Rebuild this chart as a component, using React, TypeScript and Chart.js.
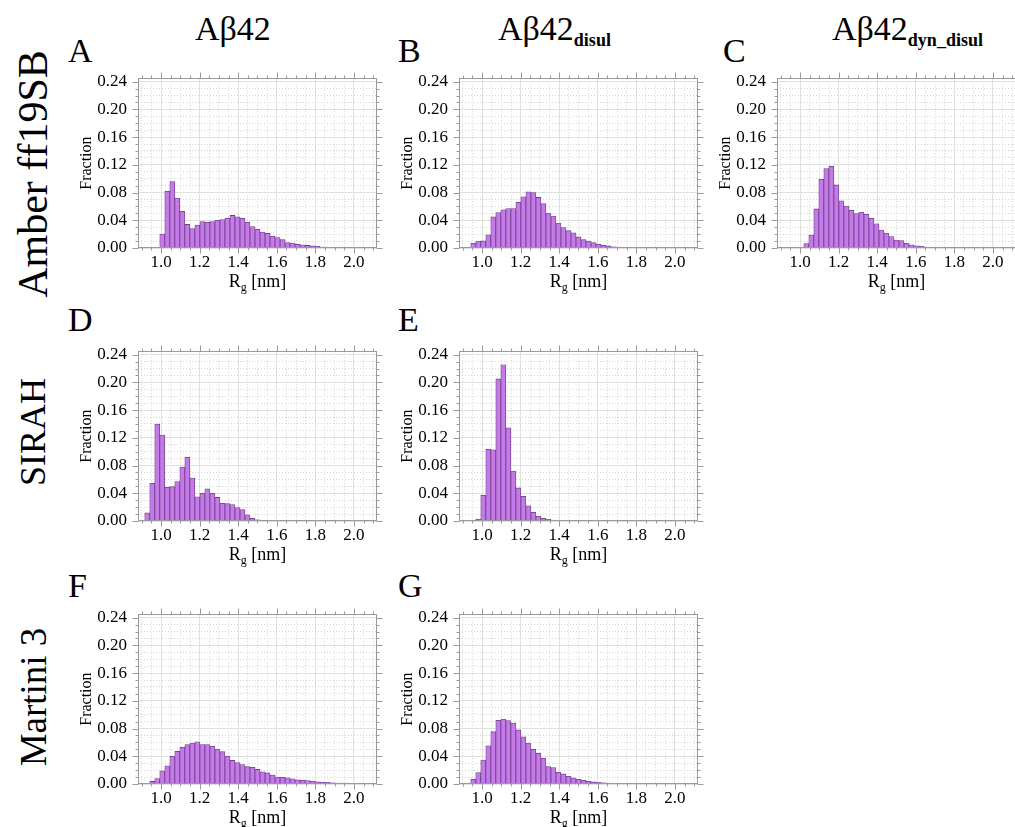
import React, { useEffect, useRef } from 'react';
import { Chart, registerables } from 'chart.js';

Chart.register(...registerables);

const FONT_CSS = '"Liberation Serif", "Times New Roman", Times, serif';
const FONT_CANVAS = '"Liberation Serif", "Times New Roman", serif';
Chart.defaults.font.family = FONT_CANVAS;

// Histogram bin centres (nm)
const binCenters = [
  0.928, 0.954, 0.98, 1.006, 1.032, 1.058, 1.084, 1.11, 1.136, 1.162, 1.188, 1.214,
  1.24, 1.266, 1.292, 1.318, 1.344, 1.37, 1.396, 1.422, 1.448, 1.474, 1.5, 1.526,
  1.552, 1.578, 1.604, 1.63, 1.656, 1.682, 1.708, 1.734, 1.76, 1.786, 1.812, 1.838,
  1.864, 1.89, 1.916, 1.942, 1.968, 1.994, 2.02, 2.046, 2.072, 2.098, 2.124,
];

// A: Amber ff19SB, Aβ42
const fracA = [
  0, 0, 0.0005, 0.020, 0.082, 0.096, 0.072, 0.053, 0.034, 0.028, 0.033, 0.038,
  0.037, 0.038, 0.040, 0.041, 0.043, 0.047, 0.045, 0.043, 0.037, 0.031, 0.027, 0.023,
  0.021, 0.017, 0.015, 0.012, 0.008, 0.007, 0.0055, 0.0046, 0.0037, 0.0032, 0.0023, 0.0014,
  0.001, 0, 0, 0, 0, 0, 0, 0, 0, 0, 0,
];
// B: Amber ff19SB, Aβ42 disul
const fracB = [
  0, 0.0068, 0.010, 0.0102, 0.019, 0.045, 0.051, 0.055, 0.057, 0.057, 0.066, 0.074,
  0.081, 0.080, 0.073, 0.064, 0.0505, 0.046, 0.036, 0.0295, 0.025, 0.022, 0.016, 0.012,
  0.010, 0.0077, 0.0055, 0.004, 0.003, 0.0018, 0.0014, 0.0009, 0.0005, 0.0004, 0, 0,
  0, 0, 0, 0, 0, 0, 0, 0, 0, 0, 0,
];
// C: Amber ff19SB, Aβ42 dyn_disul
const fracC = [
  0, 0, 0, 0.0005, 0.0064, 0.0188, 0.0564, 0.099, 0.1147, 0.118, 0.091, 0.068,
  0.0606, 0.0546, 0.0496, 0.0518, 0.0486, 0.043, 0.035, 0.026, 0.0216, 0.0165, 0.0115, 0.0106,
  0.0069, 0.0046, 0.0032, 0.0023, 0.0014, 0.0009, 0.0005, 0.0004, 0, 0, 0, 0,
  0, 0, 0, 0, 0, 0, 0, 0, 0, 0, 0,
];
// D: SIRAH, Aβ42
const fracD = [
  0.0118, 0.0545, 0.14, 0.124, 0.0486, 0.0495, 0.057, 0.0777, 0.092, 0.062, 0.035, 0.040,
  0.0464, 0.040, 0.034, 0.0255, 0.025, 0.0236, 0.0195, 0.0164, 0.009, 0.004, 0.0018, 0.0009,
  0, 0, 0, 0, 0, 0, 0, 0, 0, 0, 0, 0,
  0, 0, 0, 0, 0, 0, 0, 0, 0, 0, 0,
];
// E: SIRAH, Aβ42 disul
const fracE = [
  0, 0, 0.0027, 0.037, 0.1036, 0.1027, 0.205, 0.2255, 0.1345, 0.072, 0.0477, 0.0355,
  0.0218, 0.0127, 0.0068, 0.004, 0.0023, 0.0014, 0.0009, 0, 0, 0, 0, 0,
  0, 0, 0, 0, 0, 0, 0, 0, 0, 0, 0, 0,
  0, 0, 0, 0, 0, 0, 0, 0, 0, 0, 0,
];
// F: Martini 3, Aβ42
const fracF = [
  0.0009, 0.0037, 0.0078, 0.019, 0.0263, 0.040, 0.047, 0.053, 0.057, 0.059, 0.061, 0.057,
  0.057, 0.0545, 0.050, 0.0466, 0.040, 0.034, 0.031, 0.028, 0.025, 0.024, 0.021, 0.0175,
  0.016, 0.013, 0.010, 0.0097, 0.0088, 0.0074, 0.006, 0.0055, 0.005, 0.0042, 0.0032, 0.0028,
  0.0023, 0.0018, 0.0014, 0.0014, 0.0014, 0.0009, 0.0009, 0.0005, 0.0005, 0.0005, 0,
];
// G: Martini 3, Aβ42 disul
const fracG = [
  0.0014, 0.0068, 0.0164, 0.0345, 0.055, 0.0755, 0.092, 0.0936, 0.0914, 0.088, 0.078, 0.068,
  0.059, 0.050, 0.0445, 0.037, 0.025, 0.0236, 0.0168, 0.0145, 0.011, 0.009, 0.0068, 0.0055,
  0.004, 0.003, 0.0023, 0.0018, 0.0014, 0.0009, 0, 0, 0, 0, 0, 0,
  0, 0, 0, 0, 0, 0, 0, 0, 0, 0, 0,
];

const xTickValues = [
  0.9, 0.95, 1.0, 1.05, 1.1, 1.15, 1.2, 1.25, 1.3, 1.35, 1.4, 1.45, 1.5,
  1.55, 1.6, 1.65, 1.7, 1.75, 1.8, 1.85, 1.9, 1.95, 2.0, 2.05, 2.1,
];
const xTickLabels = ['1.0', '1.2', '1.4', '1.6', '1.8', '2.0'];
const yTickValues = [
  0, 0.01, 0.02, 0.03, 0.04, 0.05, 0.06, 0.07, 0.08, 0.09, 0.1, 0.11, 0.12,
  0.13, 0.14, 0.15, 0.16, 0.17, 0.18, 0.19, 0.2, 0.21, 0.22, 0.23, 0.24,
];
const yTickLabels = ['0.00', '0.04', '0.08', '0.12', '0.16', '0.20', '0.24'];

const columnTitles = ['Aβ42', 'Aβ42', 'Aβ42'];
const columnSubs = ['', 'disul', 'dyn_disul'];
const rowTitles = ['Amber ff19SB', 'SIRAH', 'Martini 3'];

const X_MIN = 0.88;
const X_MAX = 2.12;
const Y_MIN = 0;
const Y_MAX = 0.245;

const PLOT_W = 239;
const PLOT_H = 179;
const PAD_L = 70;
const PAD_T = 12;
const PAD_R = 14;
const PAD_B = 30;
const CW = PAD_L + PLOT_W + PAD_R;
const CH = PAD_T + PLOT_H + PAD_B;

const COL_LEFT = [138, 459, 777];
const ROW_TOP = [69, 342, 605];

const BAR_FILL = '#c47ae8';
const BAR_EDGE = '#6e3f86';
const GRID_MAJOR = '#e0e0e0';
const GRID_MINOR = '#d4d4d4';
const FRAME = '#9a9a9a';

const xLabelFor = (v: number) => {
  const s = v.toFixed(1);
  return Math.abs(v * 5 - Math.round(v * 5)) < 1e-6 && xTickLabels.includes(s) ? s : '';
};
const yLabelFor = (v: number) => {
  const s = v.toFixed(2);
  return Math.abs(v * 25 - Math.round(v * 25)) < 1e-6 && yTickLabels.includes(s) ? s : '';
};

const framePlugin = {
  id: 'frameTicks',
  afterDraw(chart: any) {
    const { ctx, chartArea } = chart;
    const { left, right, top, bottom } = chartArea;
    const xs = chart.scales.x;
    const ys = chart.scales.y;
    ctx.save();
    ctx.strokeStyle = FRAME;
    ctx.lineWidth = 1;
    const L = Math.round(left) + 0.5;
    const R = Math.round(right) - 0.5;
    const T = Math.round(top) + 0.5;
    const B = Math.round(bottom) - 0.5;
    ctx.strokeRect(L, T, R - L, B - T);
    ctx.beginPath();
    xTickValues.forEach((v) => {
      const px = Math.round(xs.getPixelForValue(v)) + 0.5;
      const len = xLabelFor(v) ? 6 : 3;
      ctx.moveTo(px, B);
      ctx.lineTo(px, B + len);
      ctx.moveTo(px, T);
      ctx.lineTo(px, T - len);
    });
    yTickValues.forEach((v) => {
      const py = Math.round(ys.getPixelForValue(v)) + 0.5;
      const len = yLabelFor(v) ? 6 : 3;
      ctx.moveTo(L, py);
      ctx.lineTo(L - len, py);
      ctx.moveTo(R, py);
      ctx.lineTo(R + len, py);
    });
    ctx.stroke();
    ctx.restore();
  },
};

function Panel({ values, left, top }: { values: number[]; left: number; top: number }) {
  const ref = useRef<HTMLCanvasElement>(null);
  useEffect(() => {
    if (!ref.current) return;
    const points = binCenters
      .map((x, i) => ({ x, y: values[i] }))
      .filter((p) => p.y > 0);
    const chart = new Chart(ref.current, {
      type: 'bar',
      data: {
        datasets: [
          {
            data: points as any,
            backgroundColor: BAR_FILL,
            borderColor: BAR_EDGE,
            borderWidth: 0.8,
            barPercentage: 1,
            categoryPercentage: 1,
          },
        ],
      },
      options: {
        responsive: false,
        animation: false,
        devicePixelRatio: 1,
        layout: { padding: { left: 0, top: PAD_T, right: PAD_R, bottom: 0 } },
        plugins: { legend: { display: false }, tooltip: { enabled: false } },
        scales: {
          x: {
            type: 'linear',
            min: X_MIN,
            max: X_MAX,
            offset: false,
            afterBuildTicks: (s: any) => {
              s.ticks = xTickValues.map((v) => ({ value: v }));
            },
            afterFit: (s: any) => {
              s.height = PAD_B;
            },
            ticks: {
              autoSkip: false,
              maxRotation: 0,
              minRotation: 0,
              padding: 4,
              color: '#000',
              font: { family: FONT_CANVAS, size: 17 },
              callback: (v: any) => xLabelFor(Number(v)),
            },
            grid: {
              offset: false,
              drawTicks: false,
              lineWidth: 1,
              color: (c: any) => (c.tick && xLabelFor(c.tick.value) ? GRID_MAJOR : GRID_MINOR),
            },
            border: {
              display: false,
              dash: (c: any) => (c.tick && xLabelFor(c.tick.value) ? [] : [1, 2]),
            },
          } as any,
          y: {
            type: 'linear',
            min: Y_MIN,
            max: Y_MAX,
            afterBuildTicks: (s: any) => {
              s.ticks = yTickValues.map((v) => ({ value: v }));
            },
            afterFit: (s: any) => {
              s.width = PAD_L;
            },
            ticks: {
              autoSkip: false,
              padding: 11,
              color: '#000',
              font: { family: FONT_CANVAS, size: 17 },
              callback: (v: any) => yLabelFor(Number(v)),
            },
            grid: {
              drawTicks: false,
              lineWidth: 1,
              color: (c: any) => (c.tick && yLabelFor(c.tick.value) ? GRID_MAJOR : GRID_MINOR),
            },
            border: {
              display: false,
              dash: (c: any) => (c.tick && yLabelFor(c.tick.value) ? [] : [1, 2]),
            },
            title: {
              display: true,
              text: 'Fraction',
              color: '#000',
              font: { family: FONT_CANVAS, size: 16 },
              padding: { top: 9, bottom: 0 },
            },
          } as any,
        },
      },
      plugins: [framePlugin],
    });
    let alive = true;
    const fontsApi: any = (document as any).fonts;
    if (fontsApi && fontsApi.load) {
      Promise.all([
        fontsApi.load('17px "Liberation Serif"'),
        fontsApi.load('16px "Liberation Serif"'),
        fontsApi.ready,
      ])
        .catch(() => null)
        .then(() => {
          if (alive) chart.update();
        });
    }
    return () => {
      alive = false;
      chart.destroy();
    };
  }, [values]);

  return (
    <div
      style={{
        position: 'absolute',
        left: left - PAD_L,
        top: top - PAD_T,
        width: CW,
        height: CH,
      }}
    >
      <canvas ref={ref} width={CW} height={CH} style={{ display: 'block', width: CW, height: CH }} />
    </div>
  );
}

const panels = [
  { key: 'A', values: fracA, col: 0, row: 0 },
  { key: 'B', values: fracB, col: 1, row: 0 },
  { key: 'C', values: fracC, col: 2, row: 0 },
  { key: 'D', values: fracD, col: 0, row: 1 },
  { key: 'E', values: fracE, col: 1, row: 1 },
  { key: 'F', values: fracF, col: 0, row: 2 },
  { key: 'G', values: fracG, col: 1, row: 2 },
];

const LETTER_X = [68, 398, 723];
const LETTER_BASE = [62, 331, 597];
const ROW_CENTER_Y = [174, 432, 697];
const ROW_FONT = [42, 36, 37];
const HEADER_X = [195, 498, 832];

const textBase: React.CSSProperties = {
  position: 'absolute',
  fontFamily: FONT_CSS,
  color: '#000',
  whiteSpace: 'nowrap',
};

export default function App() {
  return (
    <div
      style={{
        position: 'absolute',
        left: 0,
        top: 0,
        width: 1015,
        height: 827,
        overflow: 'hidden',
        background: '#fff',
      }}
    >
      {columnTitles.map((t, i) => (
        <div
          key={'h' + i}
          style={{ ...textBase, left: HEADER_X[i], top: 40 - 0.8375 * 34, fontSize: 34, lineHeight: '34px' }}
        >
          {t}
          {columnSubs[i] ? (
            <span style={{ fontSize: 18, fontWeight: 'bold', verticalAlign: '-6px', lineHeight: 0 }}>
              {columnSubs[i]}
            </span>
          ) : null}
        </div>
      ))}
      {rowTitles.map((t, i) => (
        <div
          key={'r' + i}
          style={{
            ...textBase,
            left: 33,
            top: ROW_CENTER_Y[i],
            fontSize: ROW_FONT[i],
            lineHeight: ROW_FONT[i] + 'px',
            transform: 'translate(-50%, -50%) rotate(-90deg)',
          }}
        >
          {t}
        </div>
      ))}
      {panels.map((p) => (
        <div
          key={'l' + p.key}
          style={{
            ...textBase,
            left: LETTER_X[p.col],
            top: LETTER_BASE[p.row] - 0.8375 * 34,
            fontSize: 34,
            lineHeight: '34px',
          }}
        >
          {p.key}
        </div>
      ))}
      {panels.map((p) => (
        <Panel key={p.key} values={p.values} left={COL_LEFT[p.col]} top={ROW_TOP[p.row]} />
      ))}
      {panels.map((p) => (
        <div
          key={'x' + p.key}
          style={{
            ...textBase,
            left: COL_LEFT[p.col],
            width: PLOT_W,
            textAlign: 'center',
            top: ROW_TOP[p.row] + PLOT_H + 24,
            fontSize: 18,
            lineHeight: '18px',
          }}
        >
          R<sub style={{ fontSize: 12, verticalAlign: '-4px', lineHeight: 0 }}>g</sub> [nm]
        </div>
      ))}
    </div>
  );
}
